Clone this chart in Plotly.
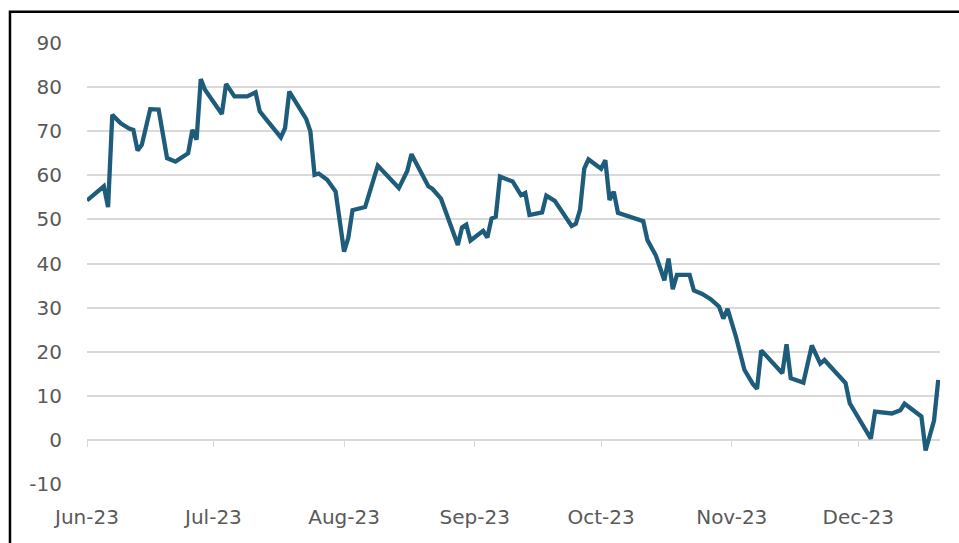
import plotly.graph_objects as go

dates = [
    "2023-06-01", "2023-06-05", "2023-06-06", "2023-06-07", "2023-06-09", "2023-06-11",
    "2023-06-12", "2023-06-13", "2023-06-14", "2023-06-16", "2023-06-18", "2023-06-20",
    "2023-06-22", "2023-06-25", "2023-06-26", "2023-06-27", "2023-06-28", "2023-06-29",
    "2023-07-03", "2023-07-04", "2023-07-06", "2023-07-09", "2023-07-11", "2023-07-12",
    "2023-07-13", "2023-07-17", "2023-07-18", "2023-07-19", "2023-07-23", "2023-07-24",
    "2023-07-25", "2023-07-26", "2023-07-28", "2023-07-30", "2023-08-01", "2023-08-02",
    "2023-08-03", "2023-08-06", "2023-08-09", "2023-08-14", "2023-08-16", "2023-08-17",
    "2023-08-21", "2023-08-22", "2023-08-24", "2023-08-28", "2023-08-29", "2023-08-30",
    "2023-08-31", "2023-09-03", "2023-09-04", "2023-09-05", "2023-09-06", "2023-09-07",
    "2023-09-10", "2023-09-12", "2023-09-13", "2023-09-14", "2023-09-17", "2023-09-18",
    "2023-09-20", "2023-09-24", "2023-09-25", "2023-09-26", "2023-09-27", "2023-09-28",
    "2023-10-01", "2023-10-02", "2023-10-03", "2023-10-04", "2023-10-05", "2023-10-08",
    "2023-10-11", "2023-10-12", "2023-10-14", "2023-10-16", "2023-10-17", "2023-10-18",
    "2023-10-19", "2023-10-22", "2023-10-23", "2023-10-25", "2023-10-27", "2023-10-29",
    "2023-10-30", "2023-10-31", "2023-11-02", "2023-11-04", "2023-11-06", "2023-11-07",
    "2023-11-08", "2023-11-13", "2023-11-14", "2023-11-15", "2023-11-18", "2023-11-20",
    "2023-11-22", "2023-11-23", "2023-11-27", "2023-11-28", "2023-11-29", "2023-12-04",
    "2023-12-05", "2023-12-09", "2023-12-11", "2023-12-12", "2023-12-16", "2023-12-17",
    "2023-12-19", "2023-12-20",
]

values = [
    54.3, 57.5, 52.8, 73.7, 71.8, 70.6,
    70.3, 65.6, 66.9, 75.0, 74.9, 63.9,
    63.1, 65.0, 70.3, 68.1, 81.8, 79.4,
    73.9, 80.7, 77.9, 77.9, 78.8, 74.5,
    73.3, 68.6, 70.7, 79.0, 72.8, 70.0,
    60.1, 60.4, 59.0, 56.3, 42.7, 45.8,
    52.1, 52.8, 62.2, 57.1, 61.0, 64.8,
    57.5, 56.9, 54.7, 44.2, 48.2, 48.8,
    45.2, 47.4, 45.9, 50.2, 50.6, 59.7,
    58.6, 55.5, 56.0, 51.0, 51.6, 55.4,
    54.2, 48.5, 49.0, 52.2, 61.5, 63.6,
    61.5, 63.4, 54.4, 56.3, 51.5, 50.6,
    49.6, 45.3, 41.8, 36.2, 41.1, 34.2,
    37.4, 37.4, 33.9, 33.1, 31.9, 30.2,
    27.5, 29.7, 23.4, 15.9, 12.7, 11.6,
    20.3, 15.1, 21.7, 14.0, 13.0, 21.4,
    17.3, 18.1, 14.0, 12.9, 8.3, 0.3,
    6.4, 6.0, 6.7, 8.2, 5.3, -2.4,
    4.4, 13.6,
]

month_ticks = ["2023-06-01", "2023-07-01", "2023-08-01", "2023-09-01",
               "2023-10-01", "2023-11-01", "2023-12-01"]
month_labels = ["Jun-23", "Jul-23", "Aug-23", "Sep-23", "Oct-23", "Nov-23", "Dec-23"]
y_ticks = [-10, 0, 10, 20, 30, 40, 50, 60, 70, 80, 90]
y_labels = ["-10", "0", "10", "20", "30", "40", "50", "60", "70", "80", "90"]

LINE_COLOR = "#1D5C7B"
GRID = "#D9D9D9"
TEXT = "#595959"
FONT = "DejaVu Sans"
FSIZE = 20

fig = go.Figure()
fig.add_trace(go.Scatter(
    x=dates, y=values, mode="lines",
    line=dict(color=LINE_COLOR, width=4.3, shape="linear"),
    hoverinfo="x+y", showlegend=False,
))

x_range = ["2023-06-01", "2023-12-20 10:00"]

fig.update_layout(
    width=959, height=543,
    margin=dict(l=87, r=19, t=43, b=59),
    paper_bgcolor="white", plot_bgcolor="white",
    font=dict(family=FONT, color=TEXT, size=FSIZE),
    xaxis=dict(
        type="date", range=x_range,
        tickmode="array", tickvals=month_ticks, ticktext=month_labels,
        showgrid=False, zeroline=False, showline=False,
        ticks="", ticklabelstandoff=19,
        tickfont=dict(family=FONT, size=FSIZE, color=TEXT),
    ),
    xaxis2=dict(
        type="date", range=x_range, overlaying="x", matches="x",
        anchor="free", position=0.1,
        tickmode="array", tickvals=month_ticks,
        showticklabels=False, showgrid=False, zeroline=False, showline=False,
        ticks="outside", ticklen=6, tickwidth=1.3, tickcolor=GRID,
    ),
    yaxis=dict(
        range=[-10, 90], tickmode="array", tickvals=y_ticks, ticktext=y_labels,
        showgrid=True, gridcolor=GRID, gridwidth=1.5,
        zeroline=False, showline=False, ticks="",
        ticklabelstandoff=24,
        tickfont=dict(family=FONT, size=FSIZE, color=TEXT),
    ),
    shapes=[dict(
        type="rect", xref="paper", yref="paper",
        x0=-0.0903, x1=1.03, y0=-0.2, y1=1.071,
        line=dict(color="black", width=2.5), fillcolor="rgba(0,0,0,0)",
        layer="below",
    )],
)

# invisible trace to activate the secondary x axis (tick marks on the zero line)
fig.add_trace(go.Scatter(
    x=[dates[0]], y=[values[0]], xaxis="x2", mode="lines",
    line=dict(width=0), hoverinfo="skip", showlegend=False,
))

fig.write_html("out.html")
